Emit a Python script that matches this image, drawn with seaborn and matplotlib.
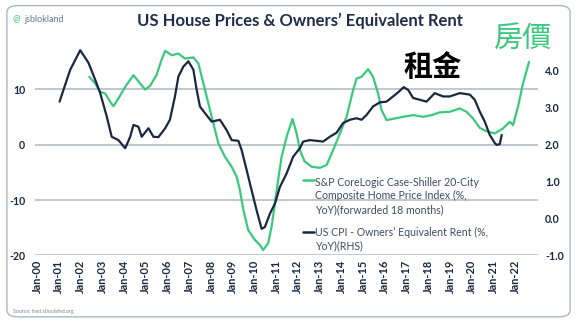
import matplotlib
matplotlib.use("Agg")
import matplotlib.pyplot as plt
from matplotlib.patches import FancyBboxPatch
from matplotlib.lines import Line2D
from matplotlib.legend_handler import HandlerLine2D
import seaborn as sns
import pandas as pd

# ---------------- data ----------------
house_x = [2002.40, 2002.67, 2002.90, 2003.13, 2003.36, 2003.51, 2003.74, 2004.05, 2004.43, 2004.74,
           2004.97, 2005.20, 2005.50, 2005.70, 2005.89, 2006.19, 2006.50, 2006.80, 2007.19, 2007.42,
           2007.65, 2007.88, 2008.11, 2008.34, 2008.64, 2008.95, 2009.18, 2009.33, 2009.49, 2009.71,
           2010.02, 2010.25, 2010.40, 2010.63, 2010.79, 2010.94, 2011.09, 2011.25, 2011.48, 2011.75,
           2011.94, 2012.09, 2012.30, 2012.63, 2013.01, 2013.32, 2013.62, 2013.93, 2014.24, 2014.54,
           2014.70, 2014.93, 2015.23, 2015.46, 2015.69, 2015.85, 2016.08, 2016.46, 2016.84, 2017.30,
           2017.76, 2018.15, 2018.53, 2018.99, 2019.45, 2019.76, 2020.06, 2020.37, 2020.68, 2021.06,
           2021.44, 2021.75, 2021.90, 2022.13, 2022.36, 2022.64]
house_yoy = [12.2, 11.0, 9.5, 9.2, 7.7, 6.9, 8.3, 10.4, 12.5, 11.0,
             9.9, 10.6, 12.6, 15.0, 16.9, 16.1, 16.4, 15.5, 15.7, 14.6,
             11.0, 7.4, 3.8, 0.2, -2.2, -4.0, -5.8, -8.2, -11.8, -15.4,
             -17.2, -18.1, -19.0, -17.8, -14.8, -10.6, -6.4, -2.2, 1.4, 4.6,
             2.0, -1.0, -3.0, -4.0, -4.2, -3.7, -1.0, 2.0, 5.0, 9.8,
             11.9, 12.2, 13.6, 12.2, 9.2, 6.2, 4.4, 4.7, 5.0, 5.3,
             5.0, 5.3, 5.8, 5.9, 6.5, 5.9, 4.7, 3.0, 2.4, 2.0,
             2.9, 4.1, 3.5, 6.8, 11.0, 14.9]

rent_x = [2001.03, 2001.21, 2001.52, 2001.98, 2002.36, 2002.67, 2002.90, 2003.20, 2003.43, 2003.74,
          2004.05, 2004.28, 2004.43, 2004.66, 2004.81, 2005.12, 2005.35, 2005.58, 2005.89, 2006.11,
          2006.34, 2006.50, 2006.73, 2006.96, 2007.19, 2007.34, 2007.49, 2007.72, 2008.03, 2008.41,
          2008.72, 2008.95, 2009.26, 2009.41, 2009.64, 2009.87, 2010.10, 2010.33, 2010.48, 2010.71,
          2010.94, 2011.17, 2011.48, 2011.78, 2012.09, 2012.24, 2012.55, 2012.86, 2013.16, 2013.47,
          2013.78, 2014.08, 2014.39, 2014.70, 2014.93, 2015.16, 2015.46, 2015.77, 2016.08, 2016.38,
          2016.61, 2016.87, 2017.07, 2017.30, 2017.61, 2017.92, 2018.30, 2018.68, 2018.99, 2019.45,
          2019.91, 2020.14, 2020.37, 2020.60, 2020.83, 2021.06, 2021.15, 2021.29, 2021.38]
rent_yoy = [3.16, 3.48, 4.02, 4.55, 4.21, 3.75, 3.39, 2.76, 2.21, 2.12,
            1.90, 2.21, 2.53, 2.48, 2.21, 2.44, 2.21, 2.20, 2.44, 2.67,
            3.30, 3.84, 4.11, 4.25, 4.02, 3.48, 3.03, 2.85, 2.62, 2.67,
            2.39, 2.12, 2.10, 1.85, 1.31, 0.76, 0.22, -0.28, -0.23, 0.13,
            0.40, 0.85, 1.22, 1.67, 1.90, 2.08, 2.12, 2.10, 2.08, 2.21,
            2.32, 2.58, 2.67, 2.71, 2.67, 2.80, 3.03, 3.14, 3.16, 3.30,
            3.41, 3.55, 3.48, 3.26, 3.21, 3.16, 3.39, 3.30, 3.30, 3.39,
            3.35, 3.21, 2.89, 2.62, 2.26, 2.04, 1.99, 2.01, 2.26]

tick_years = list(range(2000, 2023))
tick_labels = [f"Jan-{y % 100:02d}" for y in tick_years]
left_ticks = [-20, -10, 0, 10]
right_ticks = [-1.0, 0.0, 1.0, 2.0, 3.0, 4.0]

title = "US House Prices & Owners\u2019 Equivalent Rent"
house_label = "S&P CoreLogic Case-Shiller 20-City\nComposite Home Price Index (%,\nYoY)(forwarded 18 months)"
rent_label = "US CPI - Owners\u2019 Equivalent Rent (%,\nYoY)(RHS)"

# ---------------- style ----------------
sns.set_theme(style="white")
plt.rcParams['font.family'] = ['Lato', 'DejaVu Sans']

GREEN = "#3cc87c"
NAVY = "#1b2740"
GRID = "#bcc3cc"
TXT = "#3f4b5e"
LEG_FS = 7.6
LEG_LS = 1.28


class TopLineHandler(HandlerLine2D):
    """Place the legend line at the first text line of a multi-line label."""
    def __init__(self, n_lines, **kw):
        super().__init__(**kw)
        self.n_lines = n_lines

    def create_artists(self, legend, orig_handle, xdescent, ydescent, width, height, fontsize, trans):
        arts = super().create_artists(legend, orig_handle, xdescent, ydescent, width, height, fontsize, trans)
        shift = (self.n_lines - 1) / 2.0 * fontsize * 1.2 * LEG_LS
        for a in arts:
            if isinstance(a, Line2D):
                a.set_ydata([y + shift for y in a.get_ydata()])
        return arts


fig = plt.figure(figsize=(5.77, 3.26), dpi=100)
fig.patch.set_facecolor("white")

border = FancyBboxPatch((0.012, 0.028), 0.976, 0.955, boxstyle="round,pad=0,rounding_size=0.02",
                        transform=fig.transFigure, fill=False, edgecolor="#aab6c6", linewidth=1.0)
fig.patches.append(border)

ax = fig.add_axes([0.0607, 0.2163, 0.8717, 0.6807])
ax2 = ax.twinx()

df_h = pd.DataFrame({"x": house_x, "y": house_yoy})
df_r = pd.DataFrame({"x": rent_x, "y": rent_yoy})

sns.lineplot(data=df_h, x="x", y="y", ax=ax, color=GREEN, linewidth=1.6, zorder=3)
sns.lineplot(data=df_r, x="x", y="y", ax=ax2, color=NAVY, linewidth=1.6, zorder=3)

ax.set_xlim(1999.9, 2023.05)
ax.set_ylim(-20, 20)
ax2.set_ylim(-1, 5)

for y in left_ticks:
    ax.axhline(y, color=GRID, linewidth=1.3, zorder=1)

ax.set_xticks(tick_years)
ax.set_xticklabels(tick_labels, rotation=90, fontsize=7.9, fontweight="bold", color=NAVY)
ax.set_yticks(left_ticks)
ax.set_yticklabels([str(v) for v in left_ticks], fontsize=7.6, fontweight="bold", color=NAVY)
ax2.set_yticks(right_ticks)
ax2.set_yticklabels([f"{v:.1f}" for v in right_ticks], fontsize=7.6, fontweight="bold", color=NAVY)

ax.tick_params(axis="x", length=0, pad=3)
ax.tick_params(axis="y", length=0, pad=7)
ax2.tick_params(axis="y", length=0, pad=5)
ax.set_xlabel("")
ax.set_ylabel("")
ax2.set_ylabel("")
for a in (ax, ax2):
    for s in a.spines.values():
        s.set_visible(False)
ax.patch.set_alpha(0)

h_green = Line2D([], [], color=GREEN, linewidth=1.8)
h_navy = Line2D([], [], color=NAVY, linewidth=1.8)
leg = ax.legend([h_green, h_navy], [house_label, rent_label], loc="upper left",
                bbox_to_anchor=(0.516, 0.474), bbox_transform=fig.transFigure,
                frameon=False, fontsize=LEG_FS, handlelength=1.0, handletextpad=0.15,
                labelspacing=1.13, borderpad=0,
                handler_map={h_green: TopLineHandler(3), h_navy: TopLineHandler(2)})
for t in leg.get_texts():
    t.set_color(TXT)
    t.set_linespacing(LEG_LS)

fig.text(0.52, 0.935, title, ha="center", va="center", fontsize=12, fontweight="bold", color="#1f2d4a")
fig.text(0.022, 0.94, "@", ha="left", va="center", fontsize=6.5, color=GREEN)
fig.text(0.043, 0.94, "jsblokland", ha="left", va="center", fontsize=6.5, color="#6b7480")
fig.text(0.022, 0.046, "Source: fred.stlouisfed.org", ha="left", va="center", fontsize=3.8, color="#7a8390")

fig.text(0.749, 0.795, "租金", ha="center", va="center", fontsize=21, fontweight="bold", color="black",
         family=["Noto Sans CJK TC", "DejaVu Sans"])
fig.text(0.906, 0.88, "房價", ha="center", va="center", fontsize=21, fontweight="medium", color=GREEN,
         family=["Noto Sans CJK TC", "DejaVu Sans"])

fig.savefig("out.png", dpi=100)
